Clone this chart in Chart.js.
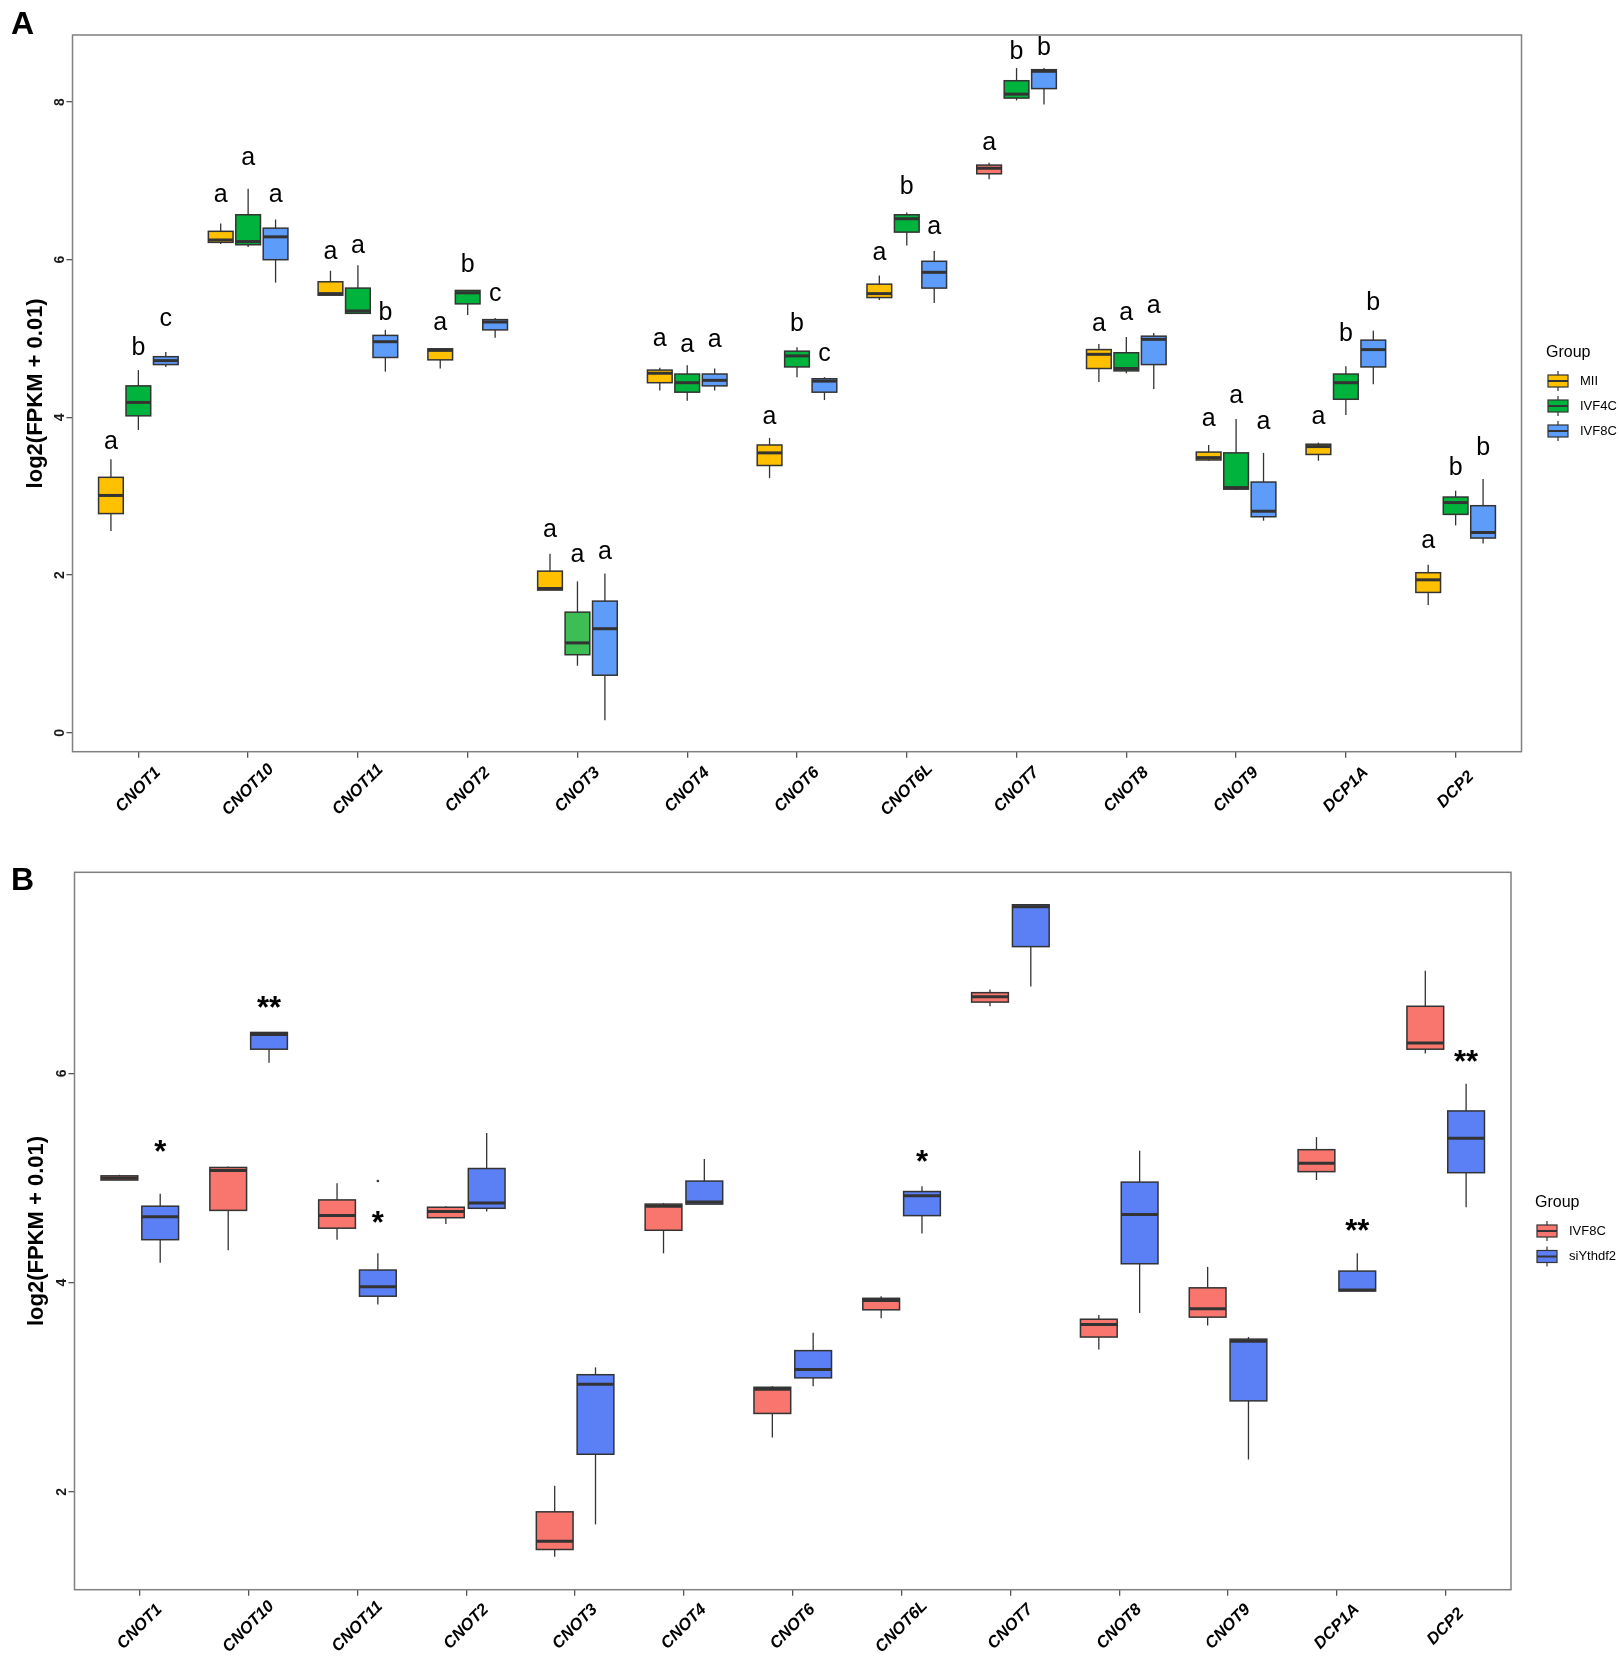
<!DOCTYPE html>
<html>
<head>
<meta charset="utf-8">
<script src="https://cdn.jsdelivr.net/npm/chart.js@4.4.1/dist/chart.umd.min.js"></script>
<style>
  html, body { margin: 0; padding: 0; background: #fff; }
  .panel { position: absolute; left: 0; width: 1619px; }
  #panelA { top: 0; height: 830px; }
  #panelB { top: 830px; height: 828px; }
</style>
</head>
<body>
<div class="panel" id="panelA"><canvas id="chartA" width="1619" height="830"></canvas></div>
<div class="panel" id="panelB"><canvas id="chartB" width="1619" height="828"></canvas></div>
<script>
const FONT = '"Liberation Sans", Arial, Helvetica, sans-serif';

const genes = ['CNOT1', 'CNOT10', 'CNOT11', 'CNOT2', 'CNOT3', 'CNOT4', 'CNOT6',
               'CNOT6L', 'CNOT7', 'CNOT8', 'CNOT9', 'DCP1A', 'DCP2'];

// ---- panel A ----  each row: [lower whisker, q1, median, q3, upper whisker]
const groupsA = ['MII', 'IVF4C', 'IVF8C'];
const miiA = [
  [2.56, 2.78, 3.01, 3.24, 3.47], [6.20, 6.22, 6.25, 6.36, 6.46], [5.55, 5.55, 5.57, 5.72, 5.86],
  [4.62, 4.73, 4.85, 4.87, 4.87], [1.81, 1.81, 1.83, 2.05, 2.27], [4.34, 4.44, 4.56, 4.60, 4.63],
  [3.23, 3.39, 3.55, 3.65, 3.74], [5.49, 5.52, 5.57, 5.69, 5.80], [7.02, 7.09, 7.16, 7.20, 7.23],
  [4.45, 4.62, 4.80, 4.86, 4.93], [3.45, 3.46, 3.49, 3.56, 3.65], [3.45, 3.53, 3.63, 3.66, 3.68],
  [1.62, 1.78, 1.94, 2.03, 2.13]
];
const ivf4cA = [
  [3.84, 4.02, 4.19, 4.40, 4.60], [6.16, 6.19, 6.23, 6.57, 6.90], [5.31, 5.32, 5.35, 5.64, 5.93],
  [5.30, 5.44, 5.58, 5.61, 5.61], [0.85, 0.99, 1.14, 1.53, 1.92], [4.21, 4.32, 4.44, 4.55, 4.66],
  [4.51, 4.64, 4.78, 4.84, 4.89], [6.18, 6.35, 6.52, 6.57, 6.60], [8.02, 8.05, 8.10, 8.27, 8.43],
  [4.56, 4.59, 4.62, 4.82, 5.02], [3.08, 3.09, 3.11, 3.55, 3.98], [4.03, 4.23, 4.44, 4.55, 4.65],
  [2.63, 2.77, 2.92, 2.99, 3.07]
];
const ivf8cA = [
  [4.64, 4.67, 4.72, 4.77, 4.83], [5.71, 6.00, 6.29, 6.40, 6.51], [4.58, 4.76, 4.96, 5.04, 5.11],
  [5.01, 5.11, 5.21, 5.24, 5.26], [0.16, 0.73, 1.32, 1.67, 2.02], [4.34, 4.40, 4.47, 4.55, 4.62],
  [4.22, 4.32, 4.46, 4.49, 4.51], [5.45, 5.64, 5.84, 5.98, 6.11], [7.97, 8.17, 8.39, 8.41, 8.43],
  [4.36, 4.67, 4.99, 5.03, 5.07], [2.69, 2.74, 2.81, 3.18, 3.55], [4.42, 4.64, 4.86, 4.98, 5.10],
  [2.40, 2.47, 2.54, 2.88, 3.22]
];
// significance letters and the height of their baseline
const lettersMII   = ['a', 'a', 'a', 'a', 'a', 'a', 'a', 'a', 'a', 'a', 'a', 'a', 'a'];
const letterYMII   = [3.60, 6.73, 6.01, 5.11, 2.48, 4.90, 3.92, 6.00, 7.39, 5.09, 3.89, 3.92, 2.34];
const lettersIVF4C = ['b', 'a', 'a', 'b', 'a', 'a', 'b', 'b', 'b', 'a', 'a', 'b', 'b'];
const letterYIVF4C = [4.79, 7.20, 6.08, 5.85, 2.16, 4.83, 5.10, 6.83, 8.55, 5.23, 4.18, 4.97, 3.27];
const lettersIVF8C = ['c', 'a', 'b', 'c', 'a', 'a', 'c', 'a', 'b', 'a', 'a', 'b', 'b'];
const letterYIVF8C = [5.16, 6.73, 5.23, 5.47, 2.21, 4.89, 4.71, 6.33, 8.60, 5.32, 3.85, 5.36, 3.52];
const yTicksA = [0, 2, 4, 6, 8];

// ---- panel B ----
const groupsB = ['IVF8C', 'siYthdf2'];
const ivf8cB = [
  [4.98, 4.98, 5.00, 5.02, 5.03], [4.31, 4.69, 5.07, 5.10, 5.11], [4.41, 4.52, 4.64, 4.79, 4.95],
  [4.56, 4.62, 4.68, 4.72, 4.73], [1.38, 1.45, 1.53, 1.81, 2.06], [4.28, 4.50, 4.73, 4.75, 4.76],
  [2.52, 2.75, 2.98, 3.00, 3.01], [3.66, 3.74, 3.83, 3.85, 3.87], [6.64, 6.68, 6.73, 6.77, 6.80],
  [3.36, 3.48, 3.60, 3.65, 3.69], [3.59, 3.67, 3.75, 3.95, 4.15], [4.98, 5.06, 5.14, 5.27, 5.39],
  [6.19, 6.23, 6.29, 6.64, 6.98]
];
const siYthdf2B = [
  [4.19, 4.41, 4.63, 4.73, 4.85], [6.10, 6.23, 6.37, 6.39, 6.39], [3.79, 3.87, 3.96, 4.12, 4.28],
  [4.68, 4.71, 4.76, 5.09, 5.43], [1.69, 2.36, 3.03, 3.12, 3.19], [4.75, 4.75, 4.77, 4.97, 5.18],
  [3.01, 3.09, 3.17, 3.35, 3.52], [4.47, 4.64, 4.83, 4.87, 4.92], [6.83, 7.21, 7.59, 7.61, 7.61],
  [3.71, 4.18, 4.65, 4.96, 5.26], [2.31, 2.87, 3.44, 3.46, 3.48], [3.92, 3.92, 3.93, 4.11, 4.28],
  [4.72, 5.05, 5.38, 5.64, 5.90]
];
const starsB = ['*', '**', '*', '', '', '', '', '*', '', '', '', '**', '**'];
const starYB = [5.31, 6.69, 4.64, null, null, null, null, 5.22, null, null, null, 4.56, 6.17];
const outlierGeneB = ['CNOT11'];
const outlierValueB = [4.97];
const yTicksB = [2, 4, 6];

// ---- drawing ----
const boxPlugin = {
  id: 'boxes',
  afterDatasetsDraw(chart) {
    const { ctx, scales: { x, y } } = chart;
    const spec = chart.options.plugins.boxes;
    const half = (x.getPixelForValue(spec.boxWidth) - x.getPixelForValue(0)) / 2;
    chart.data.datasets.forEach(ds => {
      if (!ds.stats) return;
      ds.stats.forEach((s, i) => {
        const cx = x.getPixelForValue(ds.data[i].x);
        const [lo, q1, med, q3, hi] = s.map(v => y.getPixelForValue(v));
        ctx.save();
        ctx.strokeStyle = '#333';
        ctx.lineWidth = 1.3;
        ctx.beginPath(); ctx.moveTo(cx, hi); ctx.lineTo(cx, lo); ctx.stroke();
        ctx.fillStyle = (ds.fills && ds.fills[i]) || ds.backgroundColor;
        ctx.fillRect(cx - half, q3, 2 * half, q1 - q3);
        ctx.lineWidth = 1.5;
        ctx.strokeRect(cx - half, q3, 2 * half, q1 - q3);
        ctx.lineWidth = 3;
        ctx.beginPath(); ctx.moveTo(cx - half, med); ctx.lineTo(cx + half, med); ctx.stroke();
        ctx.restore();
      });
      if (ds.marks) {
        ctx.save();
        ctx.fillStyle = '#000';
        ctx.font = spec.markFont;
        ctx.textAlign = 'center';
        ctx.textBaseline = 'alphabetic';
        ds.marks.forEach((t, i) => {
          if (!t) return;
          ctx.fillText(t, x.getPixelForValue(ds.data[i].x), y.getPixelForValue(ds.markY[i]) + spec.markShift);
        });
        ctx.restore();
      }
    });
  },
  afterDraw(chart) {
    const { ctx, chartArea: a, scales: { x, y } } = chart;
    const spec = chart.options.plugins.boxes;
    ctx.save();
    // panel frame
    ctx.strokeStyle = '#808080';
    ctx.lineWidth = 1.5;
    ctx.strokeRect(a.left, a.top, a.right - a.left, a.bottom - a.top);
    ctx.fillStyle = '#1a1a1a';
    // y tick labels (rotated like the original)
    ctx.font = 'bold 14px ' + FONT;
    ctx.textAlign = 'center';
    ctx.textBaseline = 'alphabetic';
    y.ticks.forEach(t => {
      ctx.save();
      ctx.translate(a.left - 8.5, y.getPixelForValue(t.value));
      ctx.rotate(-Math.PI / 2);
      ctx.fillText(String(t.value), 0, 0);
      ctx.restore();
    });
    // x tick labels
    ctx.fillStyle = '#000';
    ctx.font = 'italic bold 16.5px ' + FONT;
    ctx.textBaseline = 'middle';
    x.ticks.forEach(t => {
      ctx.save();
      ctx.translate(x.getPixelForValue(t.value), a.bottom + spec.xLabelDy);
      ctx.rotate(-Math.PI / 4);
      ctx.fillText(genes[t.value], 0, 0);
      ctx.restore();
    });
    // y axis title
    ctx.font = 'bold 22px ' + FONT;
    ctx.save();
    ctx.translate(spec.titleX, (a.top + a.bottom) / 2);
    ctx.rotate(-Math.PI / 2);
    ctx.fillText('log2(FPKM + 0.01)', 0, 0);
    ctx.restore();
    // panel tag
    ctx.textAlign = 'left';
    ctx.textBaseline = 'alphabetic';
    ctx.font = 'bold 32px ' + FONT;
    ctx.fillText(spec.tag, 11, spec.tagY);
    // legend
    const lg = spec.legend;
    ctx.font = '16px ' + FONT;
    ctx.textBaseline = 'middle';
    ctx.fillText('Group', lg.x, lg.titleY);
    ctx.font = '13px ' + FONT;
    chart.data.datasets.forEach((ds, g) => {
      if (!ds.stats) return;
      const cy = lg.firstY + g * lg.step;
      const kx = lg.x + 2;
      ctx.strokeStyle = '#333';
      ctx.lineWidth = 1.2;
      ctx.beginPath(); ctx.moveTo(kx + 10, cy - 10); ctx.lineTo(kx + 10, cy + 10); ctx.stroke();
      ctx.fillStyle = ds.backgroundColor;
      ctx.fillRect(kx, cy - 6, 20, 12);
      ctx.strokeRect(kx, cy - 6, 20, 12);
      ctx.lineWidth = 2;
      ctx.beginPath(); ctx.moveTo(kx, cy); ctx.lineTo(kx + 20, cy); ctx.stroke();
      ctx.fillStyle = '#000';
      ctx.fillText(ds.label, kx + 32, cy);
    });
    ctx.restore();
  }
};

function makeDatasets(groups, series, colours) {
  const dodge = 0.75 / groups.length;
  return groups.map((name, g) => ({
    label: name,
    stats: series[g],
    data: series[g].map((s, i) => ({ x: i - 0.375 + dodge * (g + 0.5), y: s[2] })),
    backgroundColor: colours[g],
    borderColor: '#333',
    pointRadius: 0,
    showLine: false
  }));
}

function axisOptions(yMin, yMax, yTicks, yWidth, xHeight) {
  const grid = { drawOnChartArea: false, drawTicks: true, tickLength: 6, color: '#555', lineWidth: 1.3 };
  return {
    x: {
      type: 'linear', min: -0.6, max: genes.length - 0.4,
      afterBuildTicks: s => { s.ticks = genes.map((_, i) => ({ value: i })); },
      afterFit: s => { s.height = xHeight; },
      ticks: { display: false, autoSkip: false },
      grid: grid, border: { display: false }
    },
    y: {
      type: 'linear', min: yMin, max: yMax,
      afterBuildTicks: s => { s.ticks = yTicks.map(v => ({ value: v })); },
      afterFit: s => { s.width = yWidth; },
      ticks: { display: false },
      grid: grid, border: { display: false }
    }
  };
}

// panel A
const dsA = makeDatasets(groupsA, [miiA, ivf4cA, ivf8cA], ['#FFC000', '#00B33C', '#5E9CFA']);
dsA[0].marks = lettersMII;   dsA[0].markY = letterYMII;
dsA[1].marks = lettersIVF4C; dsA[1].markY = letterYIVF4C;
dsA[2].marks = lettersIVF8C; dsA[2].markY = letterYIVF8C;
dsA[0].fills = { 8: '#F8766D' };   // CNOT7 MII box is drawn salmon in the source figure
dsA[1].fills = { 4: '#3DBE55' };   // lighter green for CNOT3 IVF4C

new Chart(document.getElementById('chartA'), {
  type: 'scatter',
  data: { datasets: dsA },
  options: {
    responsive: false,
    animation: false,
    layout: { padding: { left: 0, right: 97.5, top: 35, bottom: 0 } },
    scales: axisOptions(-0.24, 8.85, yTicksA, 72.5, 78.3),
    plugins: {
      legend: { display: false },
      tooltip: { enabled: false },
      boxes: {
        boxWidth: 0.225, markFont: '25px ' + FONT, markShift: 0,
        xLabelDy: 38, titleX: 35.5, tag: 'A', tagY: 34,
        legend: { x: 1546, titleY: 353, firstY: 381, step: 25 }
      }
    }
  },
  plugins: [boxPlugin]
});

// panel B
const dsB = makeDatasets(groupsB, [ivf8cB, siYthdf2B], ['#F8766D', '#5B80F6']);
dsB[1].marks = starsB; dsB[1].markY = starYB;
const dodgeB = 0.75 / groupsB.length;
dsB.push({
  label: 'outlier',
  data: outlierGeneB.map((gName, k) => ({ x: genes.indexOf(gName) - 0.375 + dodgeB * 1.5, y: outlierValueB[k] })),
  pointRadius: 1.3, pointBackgroundColor: '#333', pointBorderWidth: 0, showLine: false
});

new Chart(document.getElementById('chartB'), {
  type: 'scatter',
  data: { datasets: dsB },
  options: {
    responsive: false,
    animation: false,
    layout: { padding: { left: 0, right: 108, top: 42.3, bottom: 0 } },
    scales: axisOptions(1.066, 7.92, yTicksB, 74.5, 68.3),
    plugins: {
      legend: { display: false },
      tooltip: { enabled: false },
      boxes: {
        boxWidth: 0.3375, markFont: 'bold 31px ' + FONT, markShift: 17,
        xLabelDy: 37, titleX: 36.5, tag: 'B', tagY: 60,
        legend: { x: 1535, titleY: 373, firstY: 401, step: 25.5 }
      }
    }
  },
  plugins: [boxPlugin]
});
</script>
</body>
</html>
